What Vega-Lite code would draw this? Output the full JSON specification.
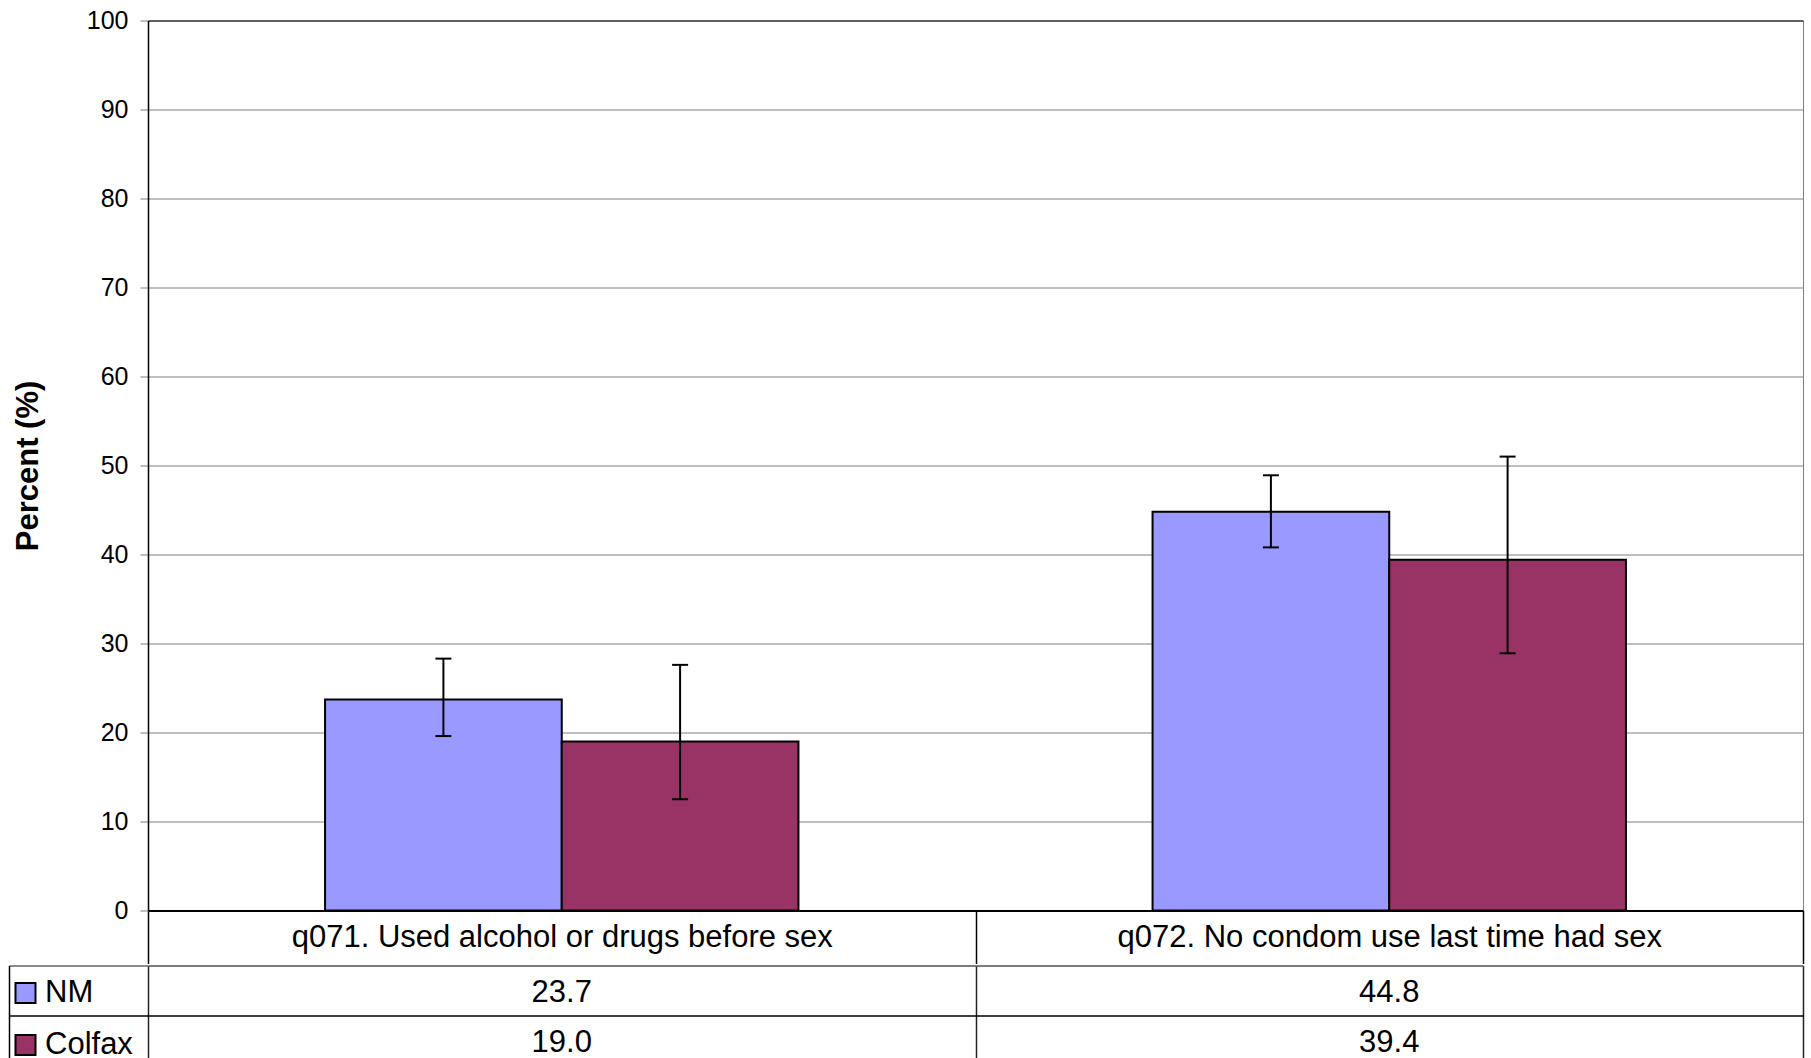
{
  "$schema": "https://vega.github.io/schema/vega-lite/v6.json",
  "padding": {"left": 7, "top": 7.5, "right": 0, "bottom": 0},
  "spacing": -5,
  "background": "white",
  "config": {
    "font": "Liberation Sans",
    "view": {"stroke": null},
    "axis": {"labelFont": "Liberation Sans", "titleFont": "Liberation Sans", "labelColor": "black", "titleColor": "black"},
    "legend": {"labelFont": "Liberation Sans"}
  },
  "datasets": {
    "pct": [
      {"question": "q071. Used alcohol or drugs before sex", "group": "NM", "value": 23.7, "lo": 19.6, "hi": 28.3},
      {"question": "q071. Used alcohol or drugs before sex", "group": "Colfax", "value": 19.0, "lo": 12.5, "hi": 27.6},
      {"question": "q072. No condom use last time had sex", "group": "NM", "value": 44.8, "lo": 40.8, "hi": 48.9},
      {"question": "q072. No condom use last time had sex", "group": "Colfax", "value": 39.4, "lo": 28.9, "hi": 51.0}
    ]
  },
  "data": {"name": "pct"},
  "vconcat": [
    {
      "width": 1655,
      "height": 890,
      "view": {"stroke": "#808080"},
      "encoding": {
        "x": {
          "field": "question", "type": "nominal", "sort": null,
          "scale": {"paddingInner": 0, "paddingOuter": 0},
          "axis": {"title": null, "orient": "bottom", "labelAngle": 0, "labelFontSize": 31, "labelBaseline": "middle", "labelPadding": -26.5, "labelLimit": 900, "tickBand": "extent", "tickSize": 53, "tickColor": "black", "tickWidth": 1.5, "domainColor": "black", "domainWidth": 2}
        },
        "xOffset": {"field": "group", "type": "nominal", "sort": ["NM", "Colfax"], "scale": {"paddingInner": 0, "paddingOuter": 0.748}}
      },
      "layer": [
        {
          "mark": {"type": "bar", "stroke": "black", "strokeWidth": 2},
          "encoding": {
            "y": {
              "field": "value", "type": "quantitative", "title": "Percent (%)",
              "scale": {"domain": [0, 100], "nice": false},
              "axis": {"values": [0, 10, 20, 30, 40, 50, 60, 70, 80, 90, 100], "grid": true, "gridColor": {"condition": {"test": "datum.value === 100", "value": "black"}, "value": "#808080"}, "gridWidth": 1, "labelFontSize": 25, "tickSize": 8, "tickColor": "#808080", "labelPadding": 12, "domainColor": "black", "domainWidth": 1.5, "titleFontSize": 31, "titleFontWeight": "bold", "titlePadding": 42}
            },
            "color": {
              "field": "group", "type": "nominal", "sort": ["NM", "Colfax"],
              "scale": {"domain": ["NM", "Colfax"], "range": ["#9999FF", "#993366"]},
              "legend": {"orient": "none", "legendX": -138, "legendY": 957, "title": null, "symbolType": "square", "symbolSize": 400, "symbolStrokeColor": "black", "symbolStrokeWidth": 2, "symbolOpacity": 1, "labelFontSize": 31, "labelOffset": 4, "rowPadding": 20, "labelColor": "black", "padding": 0}
            }
          }
        },
        {
          "mark": {"type": "rule", "color": "black", "strokeWidth": 2},
          "encoding": {
            "y": {"field": "lo", "type": "quantitative", "title": "Percent (%)"},
            "y2": {"field": "hi"}
          }
        },
        {
          "mark": {"type": "tick", "color": "black", "orient": "horizontal", "size": 16, "thickness": 2, "opacity": 1},
          "encoding": {"y": {"field": "lo", "type": "quantitative", "title": "Percent (%)"}}
        },
        {
          "mark": {"type": "tick", "color": "black", "orient": "horizontal", "size": 16, "thickness": 2, "opacity": 1},
          "encoding": {"y": {"field": "hi", "type": "quantitative", "title": "Percent (%)"}}
        }
      ]
    },
    {
      "width": 1655,
      "height": 100,
      "view": {"stroke": "#808080"},
      "mark": {"type": "text", "fontSize": 31, "color": "black", "font": "Liberation Sans", "dy": 2},
      "encoding": {
        "x": {
          "field": "question", "type": "nominal", "sort": null,
          "scale": {"paddingInner": 0, "paddingOuter": 0},
          "axis": {"orient": "top", "title": null, "labels": false, "ticks": false, "domain": false, "grid": true, "tickBand": "extent", "gridColor": "#222222", "gridWidth": 1.5}
        },
        "y": {
          "field": "group", "type": "nominal", "sort": ["NM", "Colfax"],
          "scale": {"paddingInner": 0, "paddingOuter": 0},
          "axis": {"title": null, "labels": false, "offset": 139, "tickSize": -139, "tickBand": "extent", "tickColor": {"condition": {"test": "datum.value === 'NM'", "value": "black"}, "value": "#666666"}, "tickWidth": 1.5, "domainColor": "black", "domainWidth": 1.5, "grid": true, "gridColor": {"condition": {"test": "datum.value === 'NM'", "value": "black"}, "value": "#666666"}, "gridWidth": 1.5}
        },
        "text": {"field": "value", "type": "quantitative", "format": ".1f"}
      }
    }
  ]
}
